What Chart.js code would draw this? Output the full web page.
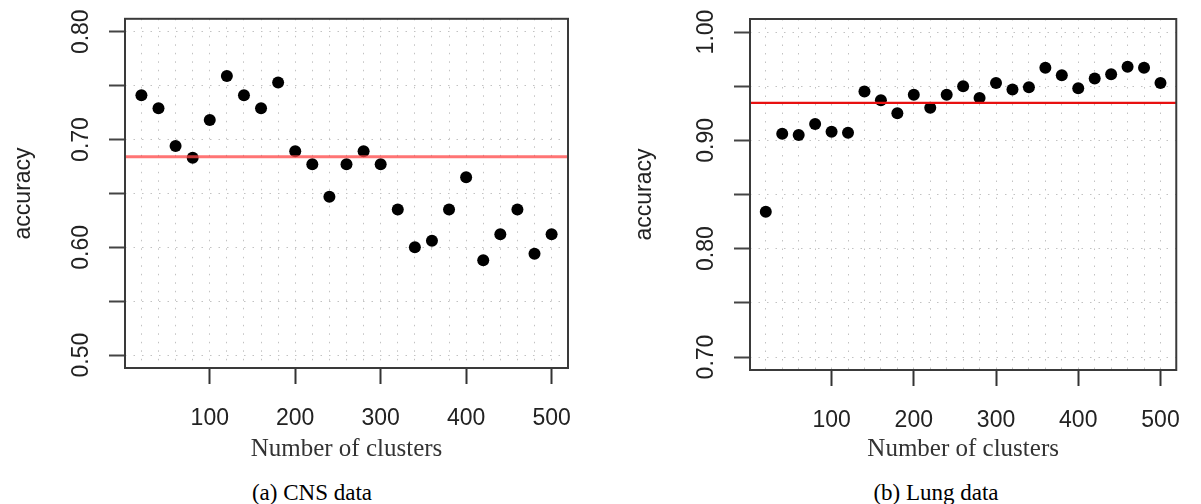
<!DOCTYPE html>
<html>
<head>
<meta charset="utf-8">
<script src="https://cdn.jsdelivr.net/npm/chart.js@4.4.1/dist/chart.umd.min.js"></script>
<style>
  body { margin: 0; background: #fff; width: 1201px; height: 504px; position: relative; overflow: hidden; }
  canvas { position: absolute; top: 0; }
  #cnsChart { left: 0; }
  #lungChart { left: 600px; }
  .caption { position: absolute; top: 481px; font-family: 'Liberation Serif', 'Times New Roman', serif; font-size: 23px; line-height: 23px; color: #000; white-space: nowrap; transform: translateX(-50%); }
</style>
</head>
<body>
<canvas id="cnsChart" width="600" height="470"></canvas>
<canvas id="lungChart" width="601" height="470"></canvas>
<div class="caption" style="left:312px">(a) CNS data</div>
<div class="caption" style="left:936px">(b) Lung data</div>

<script>
// --- Daten ---
const clusters = [20, 40, 60, 80, 100, 120, 140, 160, 180, 200, 220, 240, 260,
                  280, 300, 320, 340, 360, 380, 400, 420, 440, 460, 480, 500];

const cnsAccuracy = [0.741, 0.729, 0.694, 0.683, 0.718, 0.759, 0.741, 0.729, 0.753,
                     0.689, 0.677, 0.647, 0.677, 0.689, 0.677, 0.635, 0.600, 0.606,
                     0.635, 0.665, 0.588, 0.612, 0.635, 0.594, 0.612];

const lungAccuracy = [0.834, 0.906, 0.905, 0.915, 0.908, 0.907, 0.945, 0.937, 0.925,
                      0.942, 0.930, 0.942, 0.950, 0.939, 0.953, 0.947, 0.949, 0.967,
                      0.960, 0.948, 0.957, 0.961, 0.968, 0.967, 0.953];

// horizontale Referenzlinie (abline)
const cnsBaseline = 0.684;
const lungBaseline = 0.9345;

// Achsenbereiche wie in R (4% Erweiterung)
const xRange = [0.8, 519.2];
const cnsYRange = [0.488, 0.812];
const lungYRange = [0.688, 1.012];

const xAxisTitle = 'Number of clusters';
const yAxisTitle = 'accuracy';

// --- Plugins ---
const refLinePlugin = {
    id: 'refLine',
    afterDatasetsDraw(chart, args, opts) {
        const { ctx, chartArea } = chart;
        const y = chart.scales.y.getPixelForValue(opts.value);
        ctx.save();
        ctx.strokeStyle = opts.color;
        ctx.lineWidth = opts.width;
        ctx.beginPath();
        ctx.moveTo(chartArea.left, y);
        ctx.lineTo(chartArea.right, y);
        ctx.stroke();
        ctx.restore();
    }
};

const boxPlugin = {
    id: 'plotBox',
    afterDraw(chart) {
        const { ctx, chartArea } = chart;
        ctx.save();
        ctx.strokeStyle = '#3a3a3a';
        ctx.lineWidth = 2;
        ctx.strokeRect(chartArea.left, chartArea.top, chartArea.right - chartArea.left, chartArea.bottom - chartArea.top);
        ctx.restore();
    }
};

const dotted = [1.5, 7];
const gridColor = '#c2c2c2';

function makePanel(canvasId, values, baseline, yRange, lineStyle, pad) {
    return new Chart(document.getElementById(canvasId), {
        type: 'scatter',
        data: {
            datasets: [{
                data: clusters.map((c, i) => ({ x: c, y: values[i] })),
                backgroundColor: '#000',
                borderWidth: 0,
                pointRadius: 6,
                pointHoverRadius: 6
            }]
        },
        options: {
            responsive: false,
            animation: false,
            events: [],
            layout: { padding: { left: 0, right: pad.right, top: pad.top, bottom: 0 } },
            plugins: {
                legend: { display: false },
                tooltip: { enabled: false },
                refLine: { value: baseline, color: lineStyle.color, width: lineStyle.width }
            },
            scales: {
                x: {
                    type: 'linear',
                    min: xRange[0], max: xRange[1],
                    afterFit: (s) => { s.height = pad.xHeight; },
                    ticks: {
                        stepSize: 20,
                        includeBounds: false,
                        autoSkip: false,
                        maxRotation: 0,
                        padding: 21,
                        color: '#222',
                        font: { family: "'Liberation Sans', Arial, sans-serif", size: 23 },
                        callback: (v) => (v % 100 === 0 ? String(v) : '')
                    },
                    grid: {
                        color: gridColor,
                        lineWidth: 1,
                        tickLength: 16,
                        tickWidth: 2,
                        tickColor: (ctx) => (ctx.tick && ctx.tick.value % 100 === 0 ? '#333' : 'rgba(0,0,0,0)')
                    },
                    border: { display: false, dash: dotted },
                    title: {
                        display: true,
                        text: xAxisTitle,
                        color: '#333',
                        font: { family: "'Liberation Serif', 'Times New Roman', serif", size: 25 },
                        padding: { top: 0, bottom: 6 }
                    }
                },
                y: {
                    type: 'linear',
                    min: yRange[0], max: yRange[1],
                    afterFit: (s) => { s.width = pad.yWidth; },
                    ticks: {
                        stepSize: 0.05,
                        includeBounds: false,
                        autoSkip: false,
                        minRotation: 90,
                        maxRotation: 90,
                        crossAlign: 'center',
                        padding: 5,
                        color: '#222',
                        font: { family: "'Liberation Sans', Arial, sans-serif", size: 23 },
                        callback: (v) => (Math.abs(Math.round(v * 10) - v * 10) < 1e-6 ? v.toFixed(2) : '')
                    },
                    grid: {
                        color: gridColor,
                        lineWidth: 1,
                        tickLength: 16,
                        tickWidth: 2,
                        tickColor: '#444'
                    },
                    border: { display: false, dash: dotted },
                    title: {
                        display: true,
                        text: yAxisTitle,
                        color: '#222',
                        font: { family: "'Liberation Sans', Arial, sans-serif", size: 23 },
                        padding: { top: pad.yTitle, bottom: 0 }
                    }
                }
            }
        },
        plugins: [refLinePlugin, boxPlugin]
    });
}

// (a) CNS
makePanel('cnsChart', cnsAccuracy, cnsBaseline, cnsYRange,
    { color: 'rgba(255, 70, 70, 0.75)', width: 3 },
    { right: 32, top: 16, xHeight: 102, yWidth: 125, yTitle: 10 });

// (b) Lung
makePanel('lungChart', lungAccuracy, lungBaseline, lungYRange,
    { color: '#e81010', width: 2.2 },
    { right: 9, top: 19, xHeight: 100, yWidth: 150, yTitle: 31 });
</script>
</body>
</html>
